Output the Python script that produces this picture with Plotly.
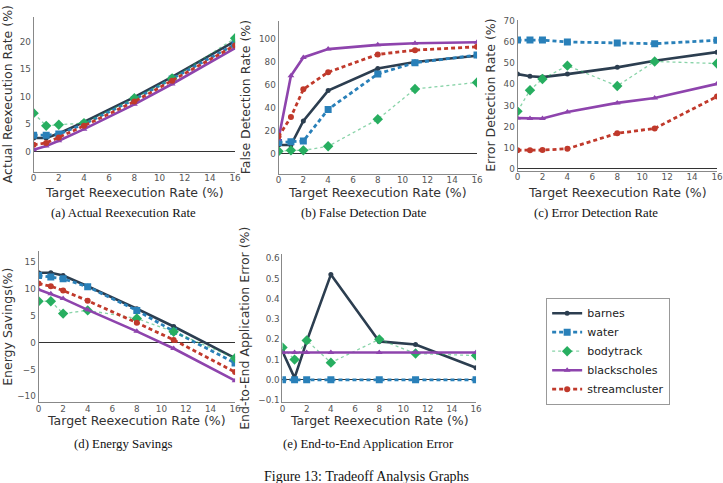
import plotly.graph_objects as go

W, H = 723, 483

x_vals = [0, 1, 2, 4, 8, 11, 16]
series_names = ["barnes", "water", "bodytrack", "blackscholes", "streamcluster"]

# (a) Actual Reexecution Rate
actual_barnes = [2.5, 2.5, 3.3, 5.4, 9.9, 13.6, 20.1]
actual_water = [3.0, 3.0, 3.2, 5.0, 9.5, 13.2, 19.5]
actual_bodytrack = [7.0, 4.7, 4.9, 5.2, 9.7, 13.3, 20.6]
actual_blackscholes = [0.35, 1.05, 2.0, 4.1, 8.6, 12.3, 18.8]
actual_streamcluster = [1.25, 1.6, 2.6, 4.7, 9.1, 12.9, 19.3]

# (b) False Detection Rate
false_barnes = [7.7, 7.7, 28.6, 54.9, 74.0, 79.7, 85.1]
false_water = [10.0, 10.6, 11.1, 38.6, 69.4, 79.1, 85.7]
false_bodytrack = [2.3, 3.1, 3.1, 6.6, 30.0, 56.3, 62.0]
false_blackscholes = [13.0, 67.7, 83.7, 90.9, 94.6, 96.0, 96.9]
false_streamcluster = [15.0, 32.0, 56.0, 70.9, 86.3, 90.0, 92.9]

# (c) Error Detection Rate
err_barnes = [44.8, 43.8, 43.4, 44.8, 48.0, 51.1, 55.2]
err_water = [60.9, 60.9, 60.9, 60.0, 59.5, 59.2, 60.8]
err_bodytrack = [27.2, 37.2, 42.5, 48.8, 39.2, 50.8, 49.8]
err_blackscholes = [24.0, 23.8, 23.8, 26.9, 31.2, 33.5, 40.2]
err_streamcluster = [8.8, 8.8, 8.9, 9.5, 16.8, 19.1, 34.2]

# (d) Energy Savings
energy_barnes = [13.0, 13.0, 12.5, 10.5, 6.3, 3.0, -2.9]
energy_water = [12.5, 12.2, 11.9, 10.4, 6.0, 2.1, -3.8]
energy_bodytrack = [7.7, 7.7, 5.4, 6.0, 4.5, 2.0, -2.9]
energy_blackscholes = [9.9, 9.1, 8.2, 6.1, 2.1, -1.1, -7.1]
energy_streamcluster = [11.0, 10.5, 9.7, 7.8, 3.7, 0.5, -5.5]

# (e) End-to-End Application Error
e2e_barnes = [0.14, 0.01, 0.19, 0.52, 0.19, 0.175, 0.06]
e2e_water = [0.0, 0.0, 0.0, 0.0, 0.0, 0.0, 0.0]
e2e_bodytrack = [0.16, 0.10, 0.195, 0.085, 0.20, 0.13, 0.12]
e2e_blackscholes = [0.135, 0.135, 0.135, 0.135, 0.135, 0.135, 0.135]

x_ticks = [0, 2, 4, 6, 8, 10, 12, 14, 16]
x_title = "Target Reexecution Rate (%)"

styles = {
    "barnes": dict(color="#2c3e50", lcolor="#2c3e50", dash="solid", width=2.6, symbol="circle", msize=5),
    "water": dict(color="#2980b9", lcolor="#2980b9", dash="4px,3px", width=2.8, symbol="square", msize=7),
    "bodytrack": dict(color="#27ae60", lcolor="rgba(39,174,96,0.55)", dash="dot", width=1.3, symbol="diamond", msize=8),
    "blackscholes": dict(color="#8e44ad", lcolor="#8e44ad", dash="solid", width=2.6, symbol="triangle-up", msize=6),
    "streamcluster": dict(color="#c0392b", lcolor="#c0392b", dash="4px,3px", width=2.8, symbol="circle", msize=6),
}

panels = [
    # key, data, x px domain, y px domain, y range, y ticks, y title, x-title y px
    ("", {"barnes": actual_barnes, "water": actual_water, "bodytrack": actual_bodytrack,
          "blackscholes": actual_blackscholes, "streamcluster": actual_streamcluster},
     (31, 235), (13, 170), [-3.6, 24.5], [0, 5, 10, 15, 20], "Actual Reexecution Rate (%)", 191),
    ("2", {"barnes": false_barnes, "water": false_water, "bodytrack": false_bodytrack,
           "blackscholes": false_blackscholes, "streamcluster": false_streamcluster},
     (279, 480), (17, 172), [-17, 115.5], [0, 20, 40, 60, 80, 100], "False Detection Rate (%)", 191),
    ("3", {"barnes": err_barnes, "water": err_water, "bodytrack": err_bodytrack,
           "blackscholes": err_blackscholes, "streamcluster": err_streamcluster},
     (521, 723), (16, 169), [-0.8, 70.5], [0, 10, 20, 30, 40, 50, 60, 70], "Error Detection Rate (%)", 191),
    ("4", {"barnes": energy_barnes, "water": energy_water, "bodytrack": energy_bodytrack,
           "blackscholes": energy_blackscholes, "streamcluster": energy_streamcluster},
     (36, 235), (251, 404), [-11.1, 17], [-10, -5, 0, 5, 10, 15], "Energy Savings(%)", 423),
    ("5", {"barnes": e2e_barnes, "water": e2e_water, "bodytrack": e2e_bodytrack,
           "blackscholes": e2e_blackscholes},
     (283, 479), (254, 404), [-0.11, 0.62], [-0.1, 0, 0.1, 0.2, 0.3, 0.4, 0.5, 0.6],
     "End-to-End Application Error (%)", 423),
]

fig = go.Figure()
layout = {}
annotations = []
for i, (k, data, xd, yd, yr, yt, ytitle, xty) in enumerate(panels):
    for name in series_names:
        if name not in data:
            continue
        s = styles[name]
        fig.add_trace(go.Scatter(
            x=x_vals, y=data[name], name=name, mode="lines+markers",
            xaxis="x" + k, yaxis="y" + k,
            line=dict(color=s["lcolor"], dash=s["dash"], width=s["width"]),
            marker=dict(symbol=s["symbol"], size=s["msize"], color=s["color"]),
            legendgroup=name, showlegend=(i == 0),
        ))
    xa = dict(
        domain=[xd[0] / W, min(xd[1] / W, 1.0)], range=[0, 16], tickvals=x_ticks,
        anchor="y" + k, showgrid=False, zeroline=False, showline=True,
        linecolor="#888", linewidth=1, ticks="", ticklabelstandoff=-2,
        tickfont=dict(family="DejaVu Sans", size=8.8, color="#555"),
    )
    ya = dict(
        domain=[1 - yd[1] / H, 1 - yd[0] / H], range=yr, tickvals=yt,
        anchor="x" + k, showgrid=False, zeroline=True, zerolinecolor="#333",
        zerolinewidth=1.4, showline=True, linecolor="#888", linewidth=1, ticks="",
        tickfont=dict(family="DejaVu Sans", size=8.8, color="#555"),
        title=dict(text=ytitle, standoff=5,
                   font=dict(family="DejaVu Sans", size=12.5, color="#333")),
    )
    if k == "5":
        ya["tickformat"] = ".1f"
    layout["xaxis" + k] = xa
    layout["yaxis" + k] = ya
    annotations.append(dict(
        text=x_title, x=(xd[0] + min(xd[1], 723)) / 2 / W, y=1 - xty / H,
        xref="paper", yref="paper", xanchor="center", yanchor="middle",
        showarrow=False, font=dict(family="DejaVu Sans", size=12.5, color="#333"),
    ))

captions = [
    ("(a) Actual Reexecution Rate", 122, 212),
    ("(b) False Detection Date", 366, 212),
    ("(c) Error Detection Rate", 600, 212),
    ("(d) Energy Savings", 122, 446),
    ("(e) End-to-End Application Error", 370, 446),
]
for text, cx, cy in captions:
    annotations.append(dict(
        text=text, x=cx / W, y=1 - cy / H, xref="paper", yref="paper",
        xanchor="center", yanchor="middle", showarrow=False,
        font=dict(family="Liberation Serif", size=12.8, color="#111"),
    ))
annotations.append(dict(
    text="Figure 13: Tradeoff Analysis Graphs", x=368 / W, y=1 - 479 / H,
    xref="paper", yref="paper", xanchor="center", yanchor="middle", showarrow=False,
    font=dict(family="Liberation Serif", size=14, color="#111"),
))

fig.update_layout(
    width=W, height=H, margin=dict(l=0, r=0, t=0, b=0),
    paper_bgcolor="white", plot_bgcolor="white",
    annotations=annotations,
    legend=dict(
        x=550 / W, y=1 - 298 / H, xanchor="left", yanchor="top",
        bordercolor="#999", borderwidth=1, bgcolor="white",
        font=dict(family="DejaVu Sans", size=11, color="#222"),
        itemwidth=30, tracegroupgap=0,
    ),
    **layout,
)

fig.write_html("out.html")
